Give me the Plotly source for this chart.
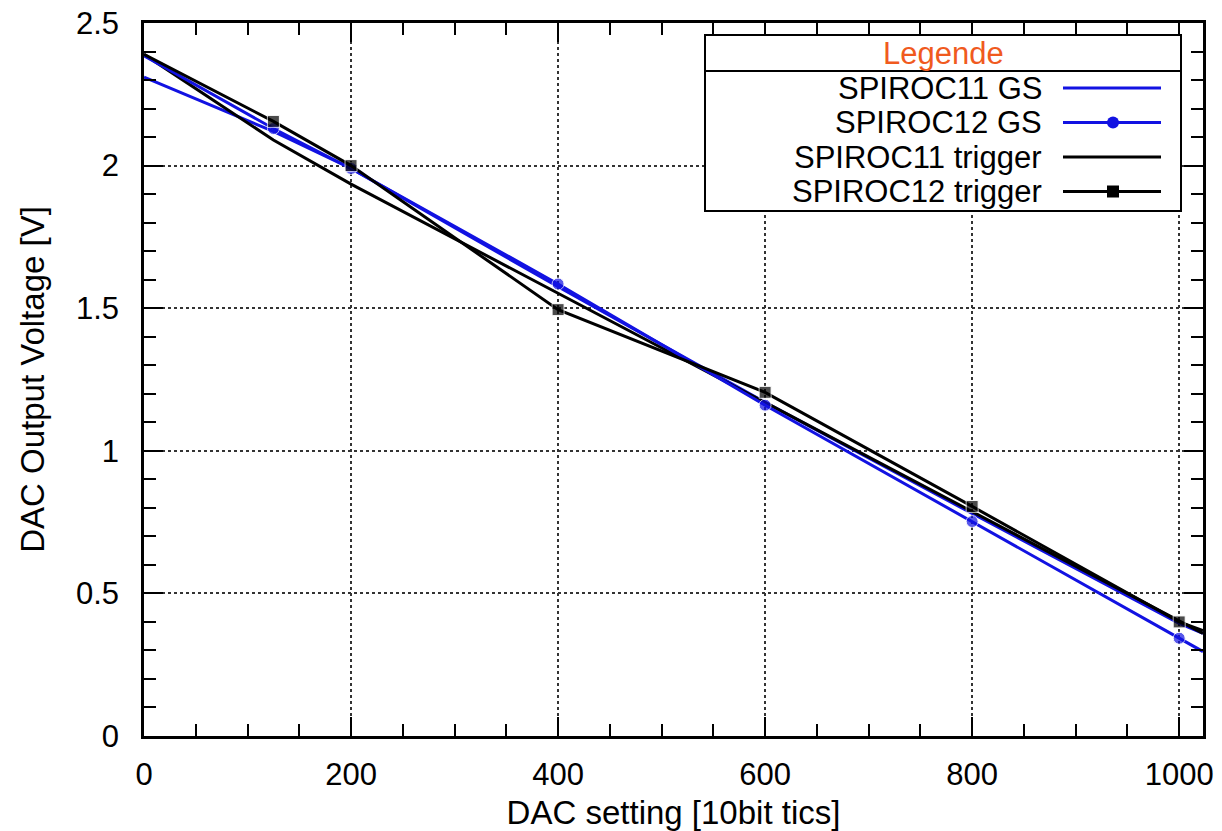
import plotly.graph_objects as go

# ---- data ----
x_pts = [0, 125, 200, 400, 600, 800, 1000, 1023]
spiroc11_gs = [2.31, 2.12, 1.99, 1.575, 1.17, 0.78, 0.395, 0.36]
spiroc12_gs = [2.385, 2.13, 1.99, 1.585, 1.16, 0.752, 0.343, 0.296]
spiroc11_trig = [2.39, 2.09, 1.935, 1.552, 1.169, 0.786, 0.404, 0.36]
spiroc12_trig = [2.39, 2.155, 2.0, 1.495, 1.205, 0.805, 0.40, 0.37]

names = ["SPIROC11 GS", "SPIROC12 GS", "SPIROC11 trigger", "SPIROC12 trigger"]
x_ticks = [0, 200, 400, 600, 800, 1000]
y_ticks = [0, 0.5, 1, 1.5, 2, 2.5]

BLUE = "#1212e2"
BLACK = "#000000"
FONT = "Liberation Sans, Arial, Helvetica, sans-serif"
FS_TICK = 31
FS_LEG = 31
FS_TITLE = 33

XMIN, XMAX = 0, 1023
YMIN, YMAX = 0, 2.5

def msizes(xs, s):
    # edge points carry no visible marker in the reference
    return [0 if (x <= XMIN or x >= XMAX) else s for x in xs]

fig = go.Figure()
fig.add_trace(go.Scatter(x=x_pts, y=spiroc11_gs, mode="lines", name=names[0],
                         line=dict(color=BLUE, width=3)))
fig.add_trace(go.Scatter(x=x_pts, y=spiroc11_trig, mode="lines", name=names[2],
                         line=dict(color=BLACK, width=3)))
fig.add_trace(go.Scatter(x=x_pts, y=spiroc12_gs, mode="lines+markers", name=names[1],
                         line=dict(color=BLUE, width=3),
                         marker=dict(symbol="circle", size=msizes(x_pts, 12), color=BLUE)))
fig.add_trace(go.Scatter(x=x_pts, y=spiroc12_trig, mode="lines+markers", name=names[3],
                         line=dict(color=BLACK, width=3),
                         marker=dict(symbol="square", size=msizes(x_pts, 12), color=BLACK)))

W, H = 1222, 831
# plot-area edges in page pixels
PL, PR, PT, PB = 144, 1203, 23, 736
L, R, T, B = PL, W - PR, PT, H - PB
PW, PH = PR - PL, PB - PT

def px(xp):
    return (xp - PL) / PW

def py(yp):
    return (PB - yp) / PH

shapes = []
annotations = []
# manual legend box (gnuplot style: text right, sample on the right)
bx0, bx1, by0, by1, bsep = 705, 1181, 35, 211, 71
shapes.append(dict(type="rect", xref="paper", yref="paper", x0=px(bx0), x1=px(bx1),
                   y0=py(by1), y1=py(by0), line=dict(color="black", width=2),
                   fillcolor="white", layer="above"))
shapes.append(dict(type="line", xref="paper", yref="paper", x0=px(bx0), x1=px(bx1),
                   y0=py(bsep), y1=py(bsep), line=dict(color="black", width=2), layer="above"))
annotations.append(dict(text="Legende", xref="paper", yref="paper", x=px(943), y=py(53),
                        showarrow=False, xanchor="center", yanchor="middle", borderpad=0,
                        font=dict(family=FONT, size=FS_LEG, color="#f05a1e")))
rows = [88, 122.5, 157, 191.5]
styles = [(BLUE, None), (BLUE, "circle"), (BLACK, None), (BLACK, "square")]
for nm, yy, (col, sym) in zip(names, rows, styles):
    annotations.append(dict(text=nm, xref="paper", yref="paper", x=px(1043), y=py(yy),
                            showarrow=False, xanchor="right", yanchor="middle", borderpad=0,
                            font=dict(family=FONT, size=FS_LEG, color="black")))
    shapes.append(dict(type="line", xref="paper", yref="paper", x0=px(1063), x1=px(1161),
                       y0=py(yy), y1=py(yy), line=dict(color=col, width=3), layer="above"))
    if sym == "circle":
        shapes.append(dict(type="circle", xref="paper", yref="paper",
                           xsizemode="pixel", ysizemode="pixel",
                           xanchor=px(1113), yanchor=py(yy), x0=-6, x1=6, y0=-6, y1=6,
                           fillcolor=col, line=dict(color=col, width=0), layer="above"))
    elif sym == "square":
        shapes.append(dict(type="rect", xref="paper", yref="paper",
                           xsizemode="pixel", ysizemode="pixel",
                           xanchor=px(1113), yanchor=py(yy), x0=-6, x1=6, y0=-6, y1=6,
                           fillcolor=col, line=dict(color=col, width=0), layer="above"))

axis_common = dict(
    showline=True, linecolor="black", linewidth=2.5, mirror="allticks",
    ticks="inside", ticklen=19, tickwidth=2, tickcolor="black",
    showgrid=True, gridcolor="#333333", griddash="dot", gridwidth=1.5,
    zeroline=False, automargin=False, ticklabeloverflow="allow",
    tickfont=dict(family=FONT, size=FS_TICK, color="black"),
)

fig.update_layout(
    width=W, height=H,
    margin=dict(l=L, r=R, t=T, b=B, autoexpand=False),
    paper_bgcolor="white", plot_bgcolor="white",
    showlegend=False,
    font=dict(family=FONT, color="black"),
    xaxis=dict(range=[XMIN, XMAX], tickvals=x_ticks, ticklabelstandoff=9,
               minor=dict(dtick=50, ticks="inside", ticklen=12, tickwidth=2,
                          tickcolor="black", showgrid=False),
               title=dict(text="DAC setting [10bit tics]", standoff=12,
                          font=dict(family=FONT, size=FS_TITLE, color="black")),
               **axis_common),
    yaxis=dict(range=[YMIN, YMAX], tickvals=y_ticks, ticklabelstandoff=16,
               minor=dict(dtick=0.1, ticks="inside", ticklen=12, tickwidth=2,
                          tickcolor="black", showgrid=False),
               title=dict(text="DAC Output Voltage [V]", standoff=22,
                          font=dict(family=FONT, size=FS_TITLE, color="black")),
               **axis_common),
    shapes=shapes,
    annotations=annotations,
)

# remove the browser's default 8px body margin so the figure fills the window exactly
fig.write_html("out.html",
               config={"displayModeBar": False},
               post_script="document.body.style.margin='0';document.body.style.overflow='hidden';")
